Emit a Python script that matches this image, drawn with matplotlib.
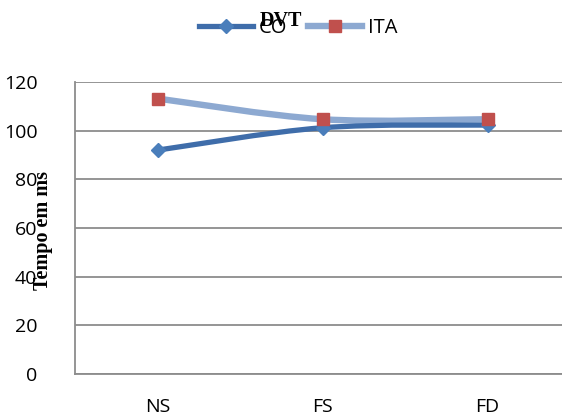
import numpy as np
import matplotlib.pyplot as plt
from matplotlib.path import Path
from matplotlib.patches import PathPatch
from matplotlib.lines import Line2D

categories = ["NS", "FS", "FD"]
co_values = [92.0, 101.2, 102.3]
ita_values = [113.2, 104.7, 104.7]
yticks = [0, 20, 40, 60, 80, 100, 120]

co_line = "#3F6DAA"
co_marker = "#4A7EBB"
ita_line = "#8DA9D1"
ita_marker = "#C0504D"
grid_col = "#8C8C8C"


def smooth_path(xs, ys):
    # Catmull-Rom style bezier, like Excel's smoothed lines
    pts = np.column_stack([xs, ys]).astype(float)
    n = len(pts)
    verts = [pts[0]]
    codes = [Path.MOVETO]
    for i in range(n - 1):
        p0 = pts[max(i - 1, 0)]
        p1 = pts[i]
        p2 = pts[i + 1]
        p3 = pts[min(i + 2, n - 1)]
        c1 = p1 + (p2 - p0) / 6.0
        c2 = p2 - (p3 - p1) / 6.0
        verts += [c1, c2, p2]
        codes += [Path.CURVE4] * 3
    return Path(verts, codes)


fig = plt.figure(figsize=(5.62, 4.17), dpi=100)
ax = fig.add_axes([75 / 562, 43 / 417, 495 / 562, 292 / 417])

x = np.arange(len(categories))
ax.add_patch(PathPatch(smooth_path(x, ita_values), facecolor="none",
                       edgecolor=ita_line, lw=4.6, capstyle="round", zorder=3))
ax.add_patch(PathPatch(smooth_path(x, co_values), facecolor="none",
                       edgecolor=co_line, lw=3.8, capstyle="round", zorder=4))
ax.plot(x, co_values, ls="none", marker="D", ms=7, color=co_marker, zorder=5)
ax.plot(x, ita_values, ls="none", marker="s", ms=9, color=ita_marker, zorder=6)

ax.set_xlim(-0.5, 2.5)
ax.set_ylim(0, 120)
ax.set_yticks(yticks)
ax.set_xticks(x)
ax.set_xticklabels(categories)
ax.yaxis.grid(True, color=grid_col, lw=1.3)
ax.set_axisbelow(True)
for side in ["top", "right"]:
    ax.spines[side].set_visible(False)
for side in ["left", "bottom"]:
    ax.spines[side].set_color(grid_col)
    ax.spines[side].set_linewidth(1.3)
ax.tick_params(axis="both", length=0, labelsize=14, labelcolor="black")
ax.tick_params(axis="y", pad=27)
ax.tick_params(axis="x", pad=17)
for lab in ax.get_xticklabels() + ax.get_yticklabels():
    lab.set_fontfamily("Open Sans")

fig.text(43 / 562, 1 - 231 / 417, "Tempo em ms", rotation=90, ha="center",
         va="center", family="Liberation Serif", weight="bold", fontsize=14.5)

handles = [
    Line2D([], [], color=co_line, lw=3.8, marker="D", ms=7,
           markerfacecolor=co_marker, markeredgecolor=co_marker),
    Line2D([], [], color=ita_line, lw=4.6, marker="s", ms=9,
           markerfacecolor=ita_marker, markeredgecolor=ita_marker),
]
fig.legend(handles, ["CO", "ITA"], loc="center", bbox_to_anchor=(298 / 562, 1 - 28 / 417),
           ncol=2, frameon=False, handlelength=2.7, columnspacing=1.0, handletextpad=0.3,
           prop={"family": "Open Sans", "size": 14.5})
fig.text(281 / 562, 1 - 21 / 417, "DVT", ha="center", va="center",
         family="Liberation Serif", weight="bold", fontsize=14.5)

fig.savefig("out.png", dpi=100)
